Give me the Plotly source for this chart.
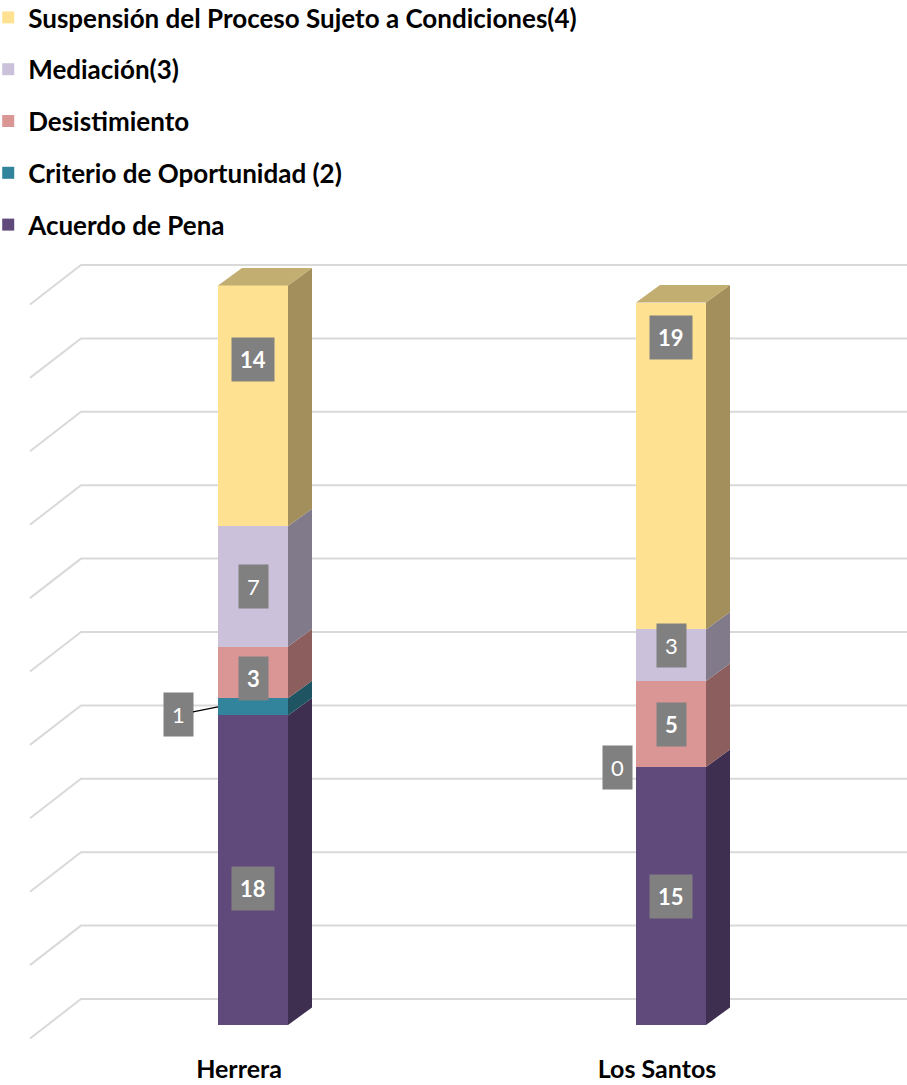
import plotly.graph_objects as go

# ---------------- data ----------------
categories = ["Herrera", "Los Santos"]
series_names = [
    "Acuerdo de Pena",
    "Criterio de Oportunidad (2)",
    "Desistimiento",
    "Mediación(3)",
    "Suspensión del Proceso Sujeto a Condiciones(4)",
]
acuerdo = [18, 15]
criterio = [1, 0]
desistimiento = [3, 5]
mediacion = [7, 3]
suspension = [14, 19]
series_values = [acuerdo, criterio, desistimiento, mediacion, suspension]
grid_ticks = list(range(0, 51, 5))

# ---------------- style ----------------
front_colors = ["#604A7B", "#31849B", "#D99694", "#CCC1DA", "#FFE291"]
side_colors = ["#3E2F51", "#1F5563", "#8C5E5D", "#817A8B", "#A38F5C"]
top_color = "#C2AE70"
label_bold = [True, False, True, False, True]
FONT = "Lato"

W, H = 907, 1085
M_T, M_B = 250, 45
PX_X = 418.0          # pixels per category unit
X0_PX = 253.0         # pixel of first category centre
BAR_PX = 70.0
DEPTH_DX_PX, DEPTH_DY_PX = 24.0, 17.5
BAR_SCALE = 17.2      # px per value unit for bars
BAR_BASE_PX = 1025.0
GRID_SCALE = 14.68    # px per value unit for back wall grid
GRID_BASE_PX = 999.0
GRID_LEFT_PX, GRID_START_PX = 30.0, 81.0
GRID_DROP_PX = 39.5

def xu(px):
    return (px - X0_PX) / PX_X

plot_top, plot_bot = M_T, H - M_B
y_bar_range = [(BAR_BASE_PX - plot_bot) / BAR_SCALE, (BAR_BASE_PX - plot_top) / BAR_SCALE]
y_grid_range = [(GRID_BASE_PX - plot_bot) / GRID_SCALE, (GRID_BASE_PX - plot_top) / GRID_SCALE]
bw = BAR_PX / PX_X
hw = bw / 2
ddx = DEPTH_DX_PX / PX_X
ddy = DEPTH_DY_PX / BAR_SCALE

# label y shifts (px) for Excel-like placement
LABEL_YSHIFT = {(4, 0): 46, (4, 1): 129, (0, 0): -18, (3, 1): 10, (2, 0): -6}

fig = go.Figure()

# back-wall grid lines with floor diagonals
gx, gy = [], []
for t in grid_ticks:
    gx += [xu(GRID_LEFT_PX), xu(GRID_START_PX), xu(W), None]
    gy += [t - GRID_DROP_PX / GRID_SCALE, t, t, None]
fig.add_trace(go.Scatter(x=gx, y=gy, mode="lines", line=dict(color="#D9D9D9", width=2),
                         hoverinfo="skip", showlegend=False, xaxis="x", yaxis="y"))

xpos = list(range(len(categories)))
n_series = len(series_names)

# front faces
for i, (name, vals) in enumerate(zip(series_names, series_values)):
    fig.add_trace(go.Bar(x=xpos, y=vals, name=name, width=bw,
                         marker=dict(color=front_colors[i], line=dict(width=0)),
                         xaxis="x", yaxis="y2", legendgroup=name,
                         legendrank=n_series - i, hoverinfo="y"))

# side & top faces + labels
annotations = []
for c in xpos:
    base = 0.0
    for i, vals in enumerate(series_values):
        v = vals[c]
        top = base + v
        if v > 0:
            xr = c + hw
            fig.add_trace(go.Scatter(
                x=[xr, xr + ddx, xr + ddx, xr, xr],
                y=[base, base + ddy, top + ddy, top, base],
                fill="toself", fillcolor=side_colors[i], mode="lines",
                line=dict(width=0, color=side_colors[i]), hoverinfo="skip",
                showlegend=False, xaxis="x", yaxis="y2"))
        txt = str(v)
        font = dict(family=FONT, size=22, color="white")
        if label_bold[i]:
            txt = "<b>" + txt + "</b>"
        ann = dict(x=c, y=base + v / 2, xref="x", yref="y2", text=txt, showarrow=False,
                   bgcolor="#808080", borderpad=8, font=font,
                   yshift=LABEL_YSHIFT.get((i, c), 0))
        if v == 0:
            ann["xshift"] = -54
        elif v <= 1:
            ann.update(x=c - hw, showarrow=True, ax=-40, ay=8, arrowhead=0,
                       arrowwidth=1.2, arrowcolor="black", standoff=0)
        annotations.append(ann)
        base = top
    xl = c - hw
    fig.add_trace(go.Scatter(
        x=[xl, xl + ddx, xl + bw + ddx, xl + bw, xl],
        y=[base, base + ddy, base + ddy, base, base],
        fill="toself", fillcolor=top_color, mode="lines",
        line=dict(width=0, color=top_color), hoverinfo="skip",
        showlegend=False, xaxis="x", yaxis="y2"))

fig.update_layout(
    width=W, height=H,
    margin=dict(l=0, r=0, t=M_T, b=M_B, autoexpand=False),
    paper_bgcolor="white", plot_bgcolor="white",
    barmode="stack", bargap=0,
    showlegend=True,
    legend=dict(x=-0.013, y=1 + (M_T + 6) / (H - M_T - M_B), xanchor="left", yanchor="top",
                traceorder="grouped", tracegroupgap=15, itemwidth=30,
                font=dict(family=FONT, size=26, color="black", weight="bold"),
                bgcolor="rgba(0,0,0,0)"),
    xaxis=dict(range=[xu(0), xu(W)], tickvals=xpos, ticktext=["<b>%s</b>" % c for c in categories],
               showgrid=False, zeroline=False, showline=False, ticks="",
               tickfont=dict(family=FONT, size=25, color="black"), ticklabelshift=-14,
               ticklabelstandoff=12),
    yaxis=dict(range=y_grid_range, showgrid=False, zeroline=False, showticklabels=False,
               showline=False, ticks=""),
    yaxis2=dict(range=y_bar_range, overlaying="y", showgrid=False, zeroline=False,
                showticklabels=False, showline=False, ticks=""),
    annotations=annotations,
)

fig.write_html("out.html", config={"displayModeBar": False},
               post_script="document.body.style.margin='0';document.body.style.overflow='hidden';")
